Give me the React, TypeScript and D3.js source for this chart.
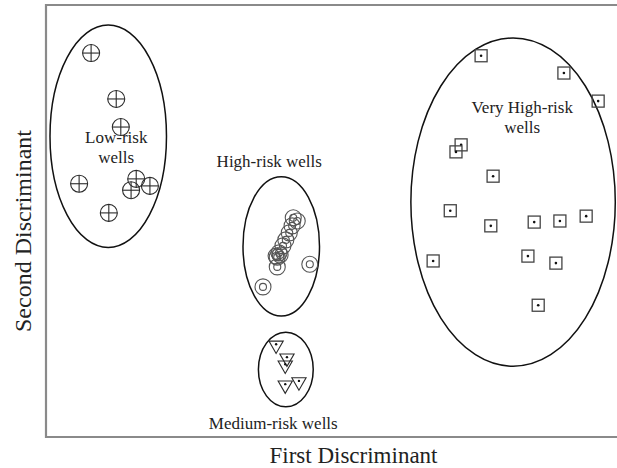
import React from "react";
import * as d3 from "d3";

// Discriminant scores (first, second) per group
const lowRisk: [number, number][] = [
  [-4.21, 3.11], [-3.77, 2.26], [-3.69, 1.74], [-4.42, 0.69],
  [-3.42, 0.78], [-3.51, 0.57], [-3.18, 0.65], [-3.9, 0.15],
];
const highRisk: [number, number][] = [
  [-0.67, 0.06], [-0.6, 0.0], [-0.69, -0.09], [-0.74, -0.22], [-0.8, -0.35],
  [-0.85, -0.46], [-0.92, -0.59], [-0.97, -0.65], [-0.9, -0.63], [-0.95, -0.67],
  [-0.95, -0.85], [-0.38, -0.8], [-1.2, -1.22],
];
const mediumRisk: [number, number][] = [
  [-0.97, -2.3], [-0.78, -2.54], [-0.81, -2.67], [-0.81, -3.04], [-0.57, -2.98],
];
const veryHighRisk: [number, number][] = [
  [2.62, 3.06], [4.07, 2.74], [4.67, 2.22], [2.27, 1.41], [2.18, 1.28],
  [2.83, 0.83], [2.08, 0.19], [2.79, -0.09], [3.55, -0.02], [4.0, 0.0],
  [4.46, 0.09], [1.78, -0.74], [3.44, -0.65], [3.93, -0.78], [3.62, -1.56],
];
// group ellipses: center x, center y, radius x, radius y
const ellipses: [number, number, number, number][] = [
  [-3.91, 1.57, 1.02, 2.06],
  [-0.88, -0.47, 0.67, 1.29],
  [-0.8, -2.75, 0.48, 0.69],
  [3.18, 0.35, 1.79, 3.04],
];
// group labels: lines, x, baseline y
const groupLabels: { lines: string[]; x: number; y: number }[] = [
  { lines: ["Low-risk", "wells"], x: -3.77, y: 1.44 },
  { lines: ["High-risk wells"], x: -1.09, y: 1.0 },
  { lines: ["Medium-risk wells"], x: -1.02, y: -3.85 },
  { lines: ["Very High-risk", "wells"], x: 3.34, y: 2.0 },
];
const xTitle = "First Discriminant";
const yTitle = "Second Discriminant";

const W = 617;
const H = 468;
const left = 46, right = 617, top = 5, bottom = 437;

export default function App() {
  const x = d3.scaleLinear().domain([-5, 5]).range([left, right]);
  const y = d3.scaleLinear().domain([-4, 4]).range([bottom, top]);
  const font = "'Liberation Serif', 'Times New Roman', serif";
  const ink = "#2a2a2a";
  const tri = d3.symbol().type(d3.symbolTriangle).size(88)();

  return (
    <svg
      width={W}
      height={H}
      style={{ position: "absolute", left: 0, top: 0, background: "#fff" }}
      fontFamily={font}
    >
      <rect x={0} y={0} width={W} height={H} fill="#fff" />
      {/* frame */}
      <path
        d={`M${right + 2},${top} H${left} V${bottom} H${right + 2}`}
        fill="none"
        stroke="#8a8a8a"
        strokeWidth={2.2}
      />
      {/* ellipses */}
      {ellipses.map(([cx, cy, rx, ry], i) => (
        <ellipse
          key={i}
          cx={x(cx)}
          cy={y(cy)}
          rx={x(cx + rx) - x(cx)}
          ry={y(cy) - y(cy + ry)}
          fill="none"
          stroke="#111"
          strokeWidth={1.5}
        />
      ))}
      {/* low risk: crossed circles */}
      {lowRisk.map(([a, b], i) => {
        const cx = x(a), cy = y(b), r = 8.5;
        return (
          <g key={"l" + i} stroke={ink} strokeWidth={1.1} fill="none">
            <circle cx={cx} cy={cy} r={r} />
            <line x1={cx - r} x2={cx + r} y1={cy} y2={cy} />
            <line x1={cx} x2={cx} y1={cy - r} y2={cy + r} />
          </g>
        );
      })}
      {/* high risk: double circles */}
      {highRisk.map(([a, b], i) => {
        const cx = x(a), cy = y(b);
        return (
          <g key={"h" + i} stroke="#555" strokeWidth={1.1} fill="none">
            <circle cx={cx} cy={cy} r={8} />
            <circle cx={cx} cy={cy} r={3.5} />
          </g>
        );
      })}
      {/* medium risk: inverted triangles with dot */}
      {mediumRisk.map(([a, b], i) => {
        const cx = x(a), cy = y(b);
        return (
          <g key={"m" + i}>
            <path
              d={tri || ""}
              transform={`translate(${cx},${cy}) rotate(180)`}
              fill="none"
              stroke={ink}
              strokeWidth={1.1}
            />
            <circle cx={cx} cy={cy - 1} r={1.2} fill="#111" />
          </g>
        );
      })}
      {/* very high risk: squares with dot */}
      {veryHighRisk.map(([a, b], i) => {
        const cx = x(a), cy = y(b), s = 12;
        return (
          <g key={"v" + i}>
            <rect
              x={cx - s / 2}
              y={cy - s / 2}
              width={s}
              height={s}
              fill="none"
              stroke="#444"
              strokeWidth={1.3}
            />
            <circle cx={cx} cy={cy} r={1.3} fill="#111" />
          </g>
        );
      })}
      {/* group labels */}
      {groupLabels.map((g, i) => (
        <text
          key={"t" + i}
          x={x(g.x)}
          y={y(g.y)}
          textAnchor="middle"
          fontSize={17}
          fill="#222"
        >
          {g.lines.map((ln, j) => (
            <tspan key={j} x={x(g.x)} dy={j === 0 ? 0 : 20}>
              {ln}
            </tspan>
          ))}
        </text>
      ))}
      {/* axis titles */}
      <text
        x={(left + 661) / 2}
        y={463}
        textAnchor="middle"
        fontSize={23}
        fill="#222"
      >
        {xTitle}
      </text>
      <text
        transform={`translate(31,${(top + bottom) / 2 + 10}) rotate(-90)`}
        textAnchor="middle"
        fontSize={24}
        fill="#222"
      >
        {yTitle}
      </text>
    </svg>
  );
}
